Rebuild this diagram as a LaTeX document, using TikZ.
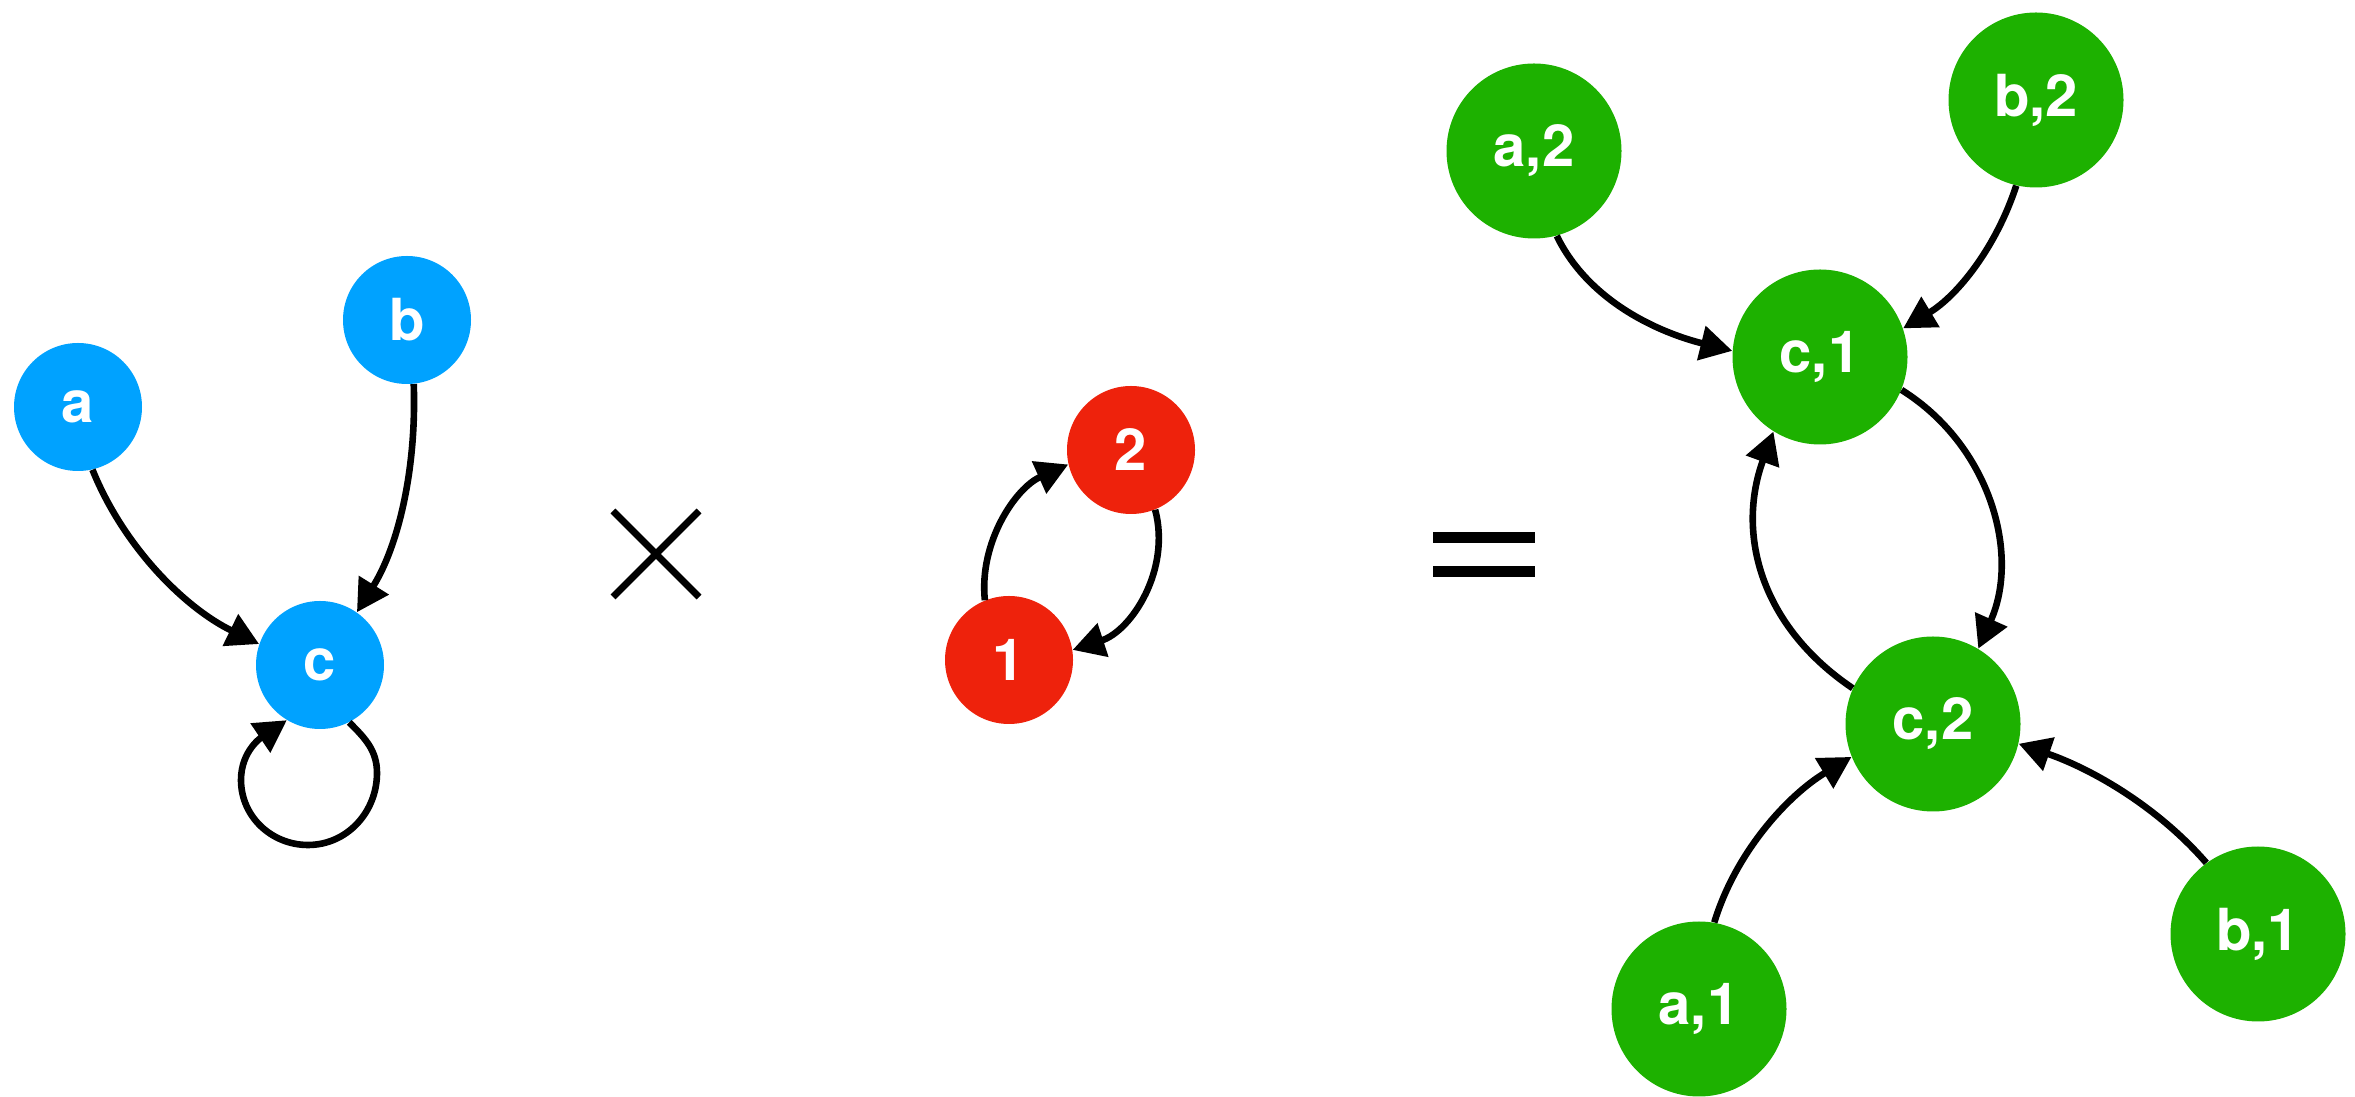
\documentclass[tikz,border=0pt]{standalone}
\usepackage{fontspec}
\setmainfont{TeX Gyre Heros}
\usetikzlibrary{arrows.meta}
\definecolor{kblue}{RGB}{0,162,255}
\definecolor{kred}{RGB}{238,34,12}
\definecolor{kgreen}{RGB}{29,177,0}
\tikzset{
  vtx/.style={circle,inner sep=0pt,text=white,font=\fontsize{29}{33}\selectfont\bfseries},
  bnode/.style={vtx,fill=kblue,minimum size=64pt},
  rnode/.style={vtx,fill=kred,minimum size=64pt},
  gnode/.style={vtx,fill=kgreen,minimum size=87.5pt},
  edge/.style={draw=black,line width=3.3pt,-{Triangle[length=16pt,width=17pt]}},
  opline/.style={draw=black,line width=3.5pt},
  eqline/.style={draw=black,line width=5.5pt}
}
\begin{document}
\begin{tikzpicture}[x=0.5pt,y=0.5pt]
\useasboundingbox (0,0) rectangle (2355,1097);
% first graph
\node[bnode] (a) at (78,690) {a};
\node[bnode] (b) at (407,777) {b};
\node[bnode] (c) at (320,432) {c};
\draw[edge] (a.-77) .. controls +(-68:83) and +(154:83) .. (c.161);
\draw[edge] (b.-84) .. controls +(-88:85) and +(58:78) .. (c.55);
\draw[edge] (c.-63) to[out=-45,in=90] ([shift={(57,-108)}]c.center)
  to[out=-90,in=0] ([shift={(-12,-180)}]c.center)
  to[out=180,in=-90] ([shift={(-79,-115)}]c.center)
  to[out=90,in=214] (c.-121);
% times sign
\coordinate (tc) at (656,543);
\draw[opline] ([shift={(-43,43)}]tc) -- ([shift={(43,-43)}]tc);
\draw[opline] ([shift={(-43,-43)}]tc) -- ([shift={(43,43)}]tc);
% second graph
\node[rnode] (n2) at (1131,647) {2};
\node[rnode] (n1) at (1009,437) {1};
\draw[edge] (n1.112) .. controls +(96:58) and +(204:58) .. (n2.193);
\draw[edge] (n2.-68) .. controls +(-75:62) and +(18:62) .. (n1.9);
% equals sign
\coordinate (ec) at (1484,542);
\draw[eqline] ([shift={(-51,17)}]ec) -- ([shift={(51,17)}]ec);
\draw[eqline] ([shift={(-51,-17)}]ec) -- ([shift={(51,-17)}]ec);
% product graph
\node[gnode] (a2) at (1534,946) {a,2};
\node[gnode] (b2) at (2036,997) {b,2};
\node[gnode] (c1) at (1820,740) {c,1};
\node[gnode] (c2) at (1933,373) {c,2};
\node[gnode] (a1) at (1699,88) {a,1};
\node[gnode] (b1) at (2258,163) {b,1};
\draw[edge] (a2.-75) .. controls +(-64:74) and +(166:74) .. (c1.176);
\draw[edge] (b2.-103) .. controls +(-108:64) and +(31:64) .. (c1.19);
\draw[edge] (c1.-22) .. controls +(-32:104) and +(66:104) .. (c2.59);
\draw[edge] (c2.156) .. controls +(146:110) and +(-110:110) .. (c1.-122);
\draw[edge] (a1.80) .. controls +(73:74) and +(-149:74) .. (c2.-158);
\draw[edge] (b1.126) .. controls +(131:76) and +(-19:76) .. (c2.-13);
\end{tikzpicture}
\end{document}
